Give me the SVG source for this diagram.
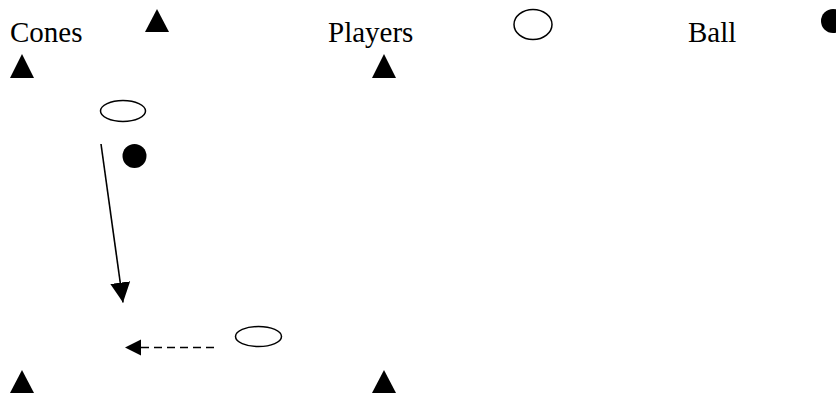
<svg xmlns="http://www.w3.org/2000/svg" width="836" height="396" viewBox="0 0 836 396">
  <defs>
    <style>
      text { font-family: 'Liberation Serif', 'DejaVu Serif', serif; font-size: 29px; fill: #000; }
      .cone { fill: #000; }
      .player { fill: #fff; stroke: #000; stroke-width: 1.5; }
      .ball { fill: #000; }
      .run { stroke: #000; stroke-width: 1.6; fill: none; }
      .pass { stroke: #000; stroke-width: 1.6; fill: none; stroke-dasharray: 8 5; }
    </style>
    <marker id="head" viewBox="0 0 10 10" refX="10" refY="5" markerWidth="20" markerHeight="21" markerUnits="userSpaceOnUse" orient="auto">
      <path d="M0,0 L10,5 L0,10 Z" fill="#000"/>
    </marker>
    <marker id="headSmall" viewBox="0 0 10 10" refX="10" refY="5" markerWidth="16" markerHeight="18" markerUnits="userSpaceOnUse" orient="auto">
      <path d="M0,0 L10,5 L0,10 Z" fill="#000"/>
    </marker>
  </defs>

  <!-- Legend -->
  <g id="legend">
    <text x="10" y="42" font-family="Liberation Serif, serif">Cones</text>
    <polygon class="cone" points="157,9 169,32 145,32"/>
    <text x="328" y="42" font-family="Liberation Serif, serif">Players</text>
    <ellipse class="player" cx="533" cy="24.5" rx="19" ry="15"/>
    <text x="688" y="42" font-family="Liberation Serif, serif">Ball</text>
    <circle class="ball" cx="833" cy="21" r="12"/>
  </g>

  <!-- Field cones -->
  <g id="cone-top-left"><polygon class="cone" points="22,54 34,78 10,78"/></g>
  <g id="cone-top-right"><polygon class="cone" points="384,54 396,78 372,78"/></g>
  <g id="cone-bottom-left"><polygon class="cone" points="22,370 34,393 10,393"/></g>
  <g id="cone-bottom-right"><polygon class="cone" points="384,370 396,393 372,393"/></g>

  <!-- Players and ball -->
  <g id="player-1"><ellipse class="player" cx="123" cy="111" rx="22.5" ry="10.5"/></g>
  <g id="ball-1"><circle class="ball" cx="134.5" cy="156" r="12"/></g>
  <g id="player-2"><ellipse class="player" cx="258.5" cy="336.5" rx="23" ry="10"/></g>

  <!-- Movement arrows -->
  <g id="connectors">
    <line class="run" x1="101" y1="144" x2="123" y2="302.5" marker-end="url(#head)"/>
    <line class="pass" x1="214" y1="347.5" x2="125" y2="347.5" marker-end="url(#headSmall)"/>
  </g>
</svg>
